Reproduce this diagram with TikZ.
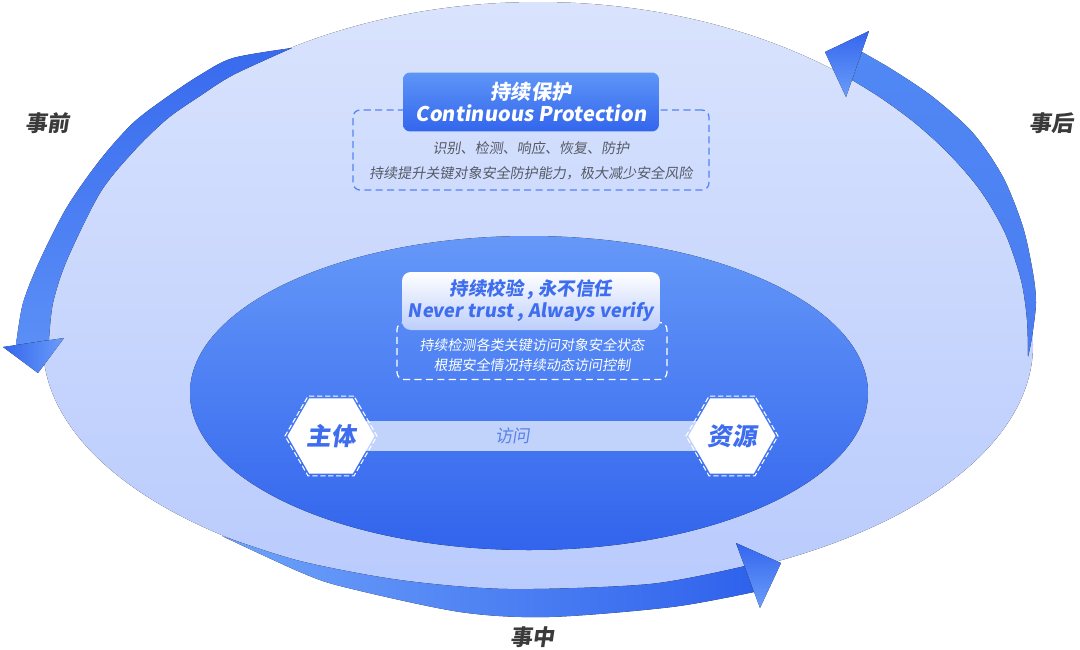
\documentclass[tikz,border=0pt]{standalone}
\usepackage{fontspec}
\setmainfont{Noto Sans CJK SC}[FakeSlant=0.15]
\usetikzlibrary{shapes.geometric}
\pgfdeclarelayer{back}
\pgfdeclarelayer{mid}
\pgfsetlayers{back,mid,main}
\definecolor{lite1}{HTML}{D9E3FD}
\definecolor{lite2}{HTML}{B9CBFD}
\definecolor{deep1}{HTML}{6598F8}
\definecolor{deep2}{HTML}{3264ED}
\definecolor{bandL1}{HTML}{386AEE}
\definecolor{bandL2}{HTML}{5B8FF6}
\definecolor{bandR1}{HTML}{5088F4}
\definecolor{bandR2}{HTML}{4A7CF1}
\definecolor{bandB1}{HTML}{6EA2FA}
\definecolor{bandB2}{HTML}{2F62EC}
\definecolor{headA}{HTML}{3466EE}
\definecolor{headB}{HTML}{6A9DF9}
\definecolor{protT}{HTML}{5E95F7}
\definecolor{protB}{HTML}{3366ED}
\definecolor{verifB}{HTML}{BDCEFB}
\definecolor{txtblue}{HTML}{3E6EEF}
\definecolor{frameblue}{HTML}{5384F4}
\definecolor{barblue}{HTML}{C2D3FB}
\definecolor{descgray}{HTML}{555A66}
\definecolor{phasegray}{HTML}{3A3A3A}
\definecolor{fwblue}{HTML}{5B82EA}

\begin{document}
\begin{tikzpicture}[x=0.02cm,y=-0.02cm,
    phase/.style={text=phasegray,font=\fontsize{12.5}{14}\selectfont\bfseries},
    hexa/.style={regular polygon,regular polygon sides=6,minimum size=1.74cm,inner sep=0pt,fill=white,text=txtblue,font=\fontsize{14}{16}\selectfont\bfseries},
    hexring/.style={regular polygon,regular polygon sides=6,minimum size=1.84cm,draw=white,dash pattern=on 3pt off 1.5pt,line width=0.6pt},
    frame/.style={rounded corners=4pt,line width=0.7pt,dash pattern=on 4pt off 2.5pt},
    desc/.style={align=center,font=\fontsize{8}{#1}\selectfont}]
  \useasboundingbox (0,0) rectangle (1080,650);
  \begin{pgfonlayer}{back}
    \fill [top color=lite1,bottom color=lite2] (43,345) arc[start angle=180,end angle=360,x radius=495,y radius=343] arc[start angle=0,end angle=180,x radius=495,y radius=247] -- cycle;
    % three phase arrows
    \fill [top color=bandL1,bottom color=bandL2] plot[smooth] coordinates {(292,48) (233,58) (200,75) (167,97) (133,123) (100,160) (67,207) (40,260) (23,303) (16,345)} -- plot[smooth] coordinates {(49,340) (53,303) (67,260) (100,193) (133,152) (167,119) (200,96) (233,75) (292,48)} -- cycle;
    \fill [top color=bandR1,bottom color=bandR2] plot[smooth] coordinates {(1028,357) (1032,337) (1036,303) (1033,273) (1023,227) (1003,177) (973,133) (933,97) (893,70) (862,52)} -- plot[smooth] coordinates {(852,80) (881,98) (915,123) (948,153) (980,190) (1005,233) (1021,280) (1027,320) (1028,357)} -- cycle;
    \fill [left color=bandB1,right color=bandB2] plot[smooth] coordinates {(222,536) (300,572) (344,587) (460,612) (549,617) (672,607) (754,592)} -- plot[smooth] coordinates {(745,566) (650,584) (508,589) (400,580) (300,561) (222,536)} -- cycle;
    \fill [left color=headA,right color=headB] (3,347) -- (64,338) -- (38,373) -- cycle;
    \fill [top color=headA,bottom color=headB] (825,52) -- (869,31) -- (846,97) -- cycle;
    \fill [top color=headA,bottom color=headB] (736,543) -- (781,563) -- (760,608) -- cycle;
    \fill [top color=deep1,bottom color=deep2] (529,393) ellipse[x radius=339,y radius=157];
  \end{pgfonlayer}

  \node [phase] (pre) at (47,123) {事前};
  \node [phase] (post) at (1051,123) {事后};
  \node [phase] (mid) at (532,637) {事中};

  \node [frame,draw=frameblue,minimum width=7.12cm,minimum height=1.6cm] (protbox) at (531,150) {};
  \node [desc=14,text=descgray] (protdesc) at (531,161) {识别、检测、响应、恢复、防护\\持续提升关键对象安全防护能力，极大减少安全风险};
  \node [rounded corners=4pt,top color=protT,bottom color=protB,minimum width=5.12cm,minimum height=1.18cm,inner sep=0pt,text=white,align=center,font=\fontsize{11.5}{12}\selectfont\bfseries] (prot) at (531,102) {持续保护\\Continuous Protection};

  \node [frame,draw=white,minimum width=5.4cm,minimum height=1.14cm] (verifbox) at (532,351) {};
  \node [desc=11.3,text=white] (verifdesc) at (532,355) {持续检测各类关键访问对象安全状态\\根据安全情况持续动态访问控制};
  \node [rounded corners=5pt,top color=white,bottom color=verifB,minimum width=5.16cm,minimum height=1.16cm,inner sep=0pt,text=txtblue,align=center,font=\fontsize{10.5}{12.5}\selectfont\bfseries] (verif) at (531,301) {持续校验 , 永不信任\\Never trust , Always verify};

  \node [hexa] (zt) at (331,436) {主体};
  \node [hexring] at (zt) {};
  \node [hexa] (zy) at (732,436) {资源};
  \node [hexring] at (zy) {};
  \begin{pgfonlayer}{mid}
    \draw [barblue,line width=17pt,shorten <=-12pt,shorten >=-12pt] (zt) -- node[pos=0.44,text=fwblue,font=\fontsize{10}{12}\selectfont] (fw) {访问} (zy);
  \end{pgfonlayer}
\end{tikzpicture}
\end{document}
